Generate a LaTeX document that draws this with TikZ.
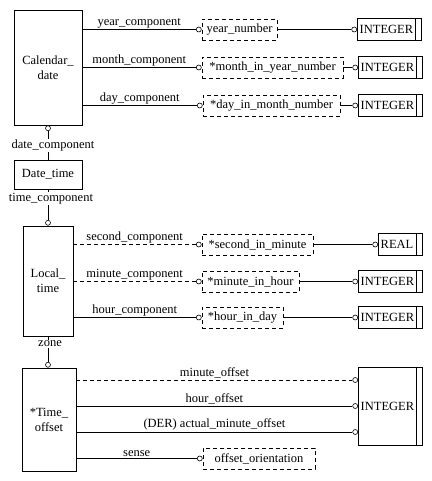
\documentclass[tikz,border=0pt]{standalone}
\usepackage{fontspec}
\setmainfont{Liberation Serif}
\usetikzlibrary{positioning}

\begin{document}
\begin{tikzpicture}[
    x=1pt, y=-1pt,
    font=\fontsize{12.5}{15}\selectfont,
    entity/.style={rectangle, draw, line width=0.8pt, align=center, inner sep=0pt},
    seltype/.style={rectangle, draw, line width=0.8pt, dash pattern=on 4pt off 3pt, minimum height=21pt, inner sep=0pt},
    basetype/.style={rectangle, inner xsep=2.5pt, inner ysep=0pt, minimum height=21pt, anchor=west},
    ocirc/.style={circle, draw, fill=white, line width=0.6pt, inner sep=0pt, minimum size=5pt},
    rel/.style={line width=0.8pt},
    optrel/.style={line width=0.8pt, dash pattern=on 4pt off 3pt},
    lbl/.style={above, inner sep=1pt},
    vlbl/.style={fill=white, inner sep=1pt}
]

\fill[white] (0,0) rectangle (431,481);
\useasboundingbox (0,0) rectangle (431,481);

\node[entity, minimum width=68pt, minimum height=115pt] (cal) at (48,67.5) {Calendar\_\\date};
\node[entity, minimum width=68pt, minimum height=29pt] (dt) at (48,174.5) {Date\_time};
\node[entity, minimum width=50pt, minimum height=110pt] (loc) at (48,281) {Local\_\\time};
\node[entity, minimum width=54pt, minimum height=103pt] (tof) at (49,419.5) {*Time\_\\offset};

\node[seltype, minimum width=75pt] (yn) at (239.5,29.5) {year\_number};
\node[seltype, minimum width=141pt] (miyn) at (272.5,67.5) {*month\_in\_year\_number};
\node[seltype, minimum width=137pt] (dimn) at (271.5,105.5) {*day\_in\_month\_number};
\node[seltype, minimum width=111pt] (sim) at (257.5,244.5) {*second\_in\_minute};
\node[seltype, minimum width=97pt] (mih) at (250.5,281.5) {*minute\_in\_hour};
\node[seltype, minimum width=81pt] (hid) at (242.5,317.5) {*hour\_in\_day};
\node[seltype, minimum width=112pt] (oo) at (259,458.5) {offset\_orientation};

\node[basetype] (i1) at (357,29.5) {INTEGER};
\node[basetype] (i2) at (358,67.5) {INTEGER};
\node[basetype] (i3) at (358,105.5) {INTEGER};
\node[basetype] (rl) at (378,244.5) {REAL};
\node[basetype] (i4) at (358,281.5) {INTEGER};
\node[basetype] (i5) at (358,317.5) {INTEGER};
\node[basetype, minimum height=77pt] (io) at (358,406.5) {INTEGER};

\foreach \t in {i1,i2,i3,rl,i4,i5,io}
    \draw[rel] (\t.south west) rectangle ([xshift=6pt]\t.north east) (\t.south east) -- (\t.north east);

\node[ocirc, anchor=north] (ccal) at (cal.south) {};
\node[ocirc, anchor=south] (cloc) at (loc.north) {};
\node[ocirc, anchor=south] (ctof) at (tof.north -| loc.south) {};

\foreach \s in {yn,miyn,dimn,sim,mih,hid,oo}
    \node[ocirc, left=0pt of \s] (c\s) {};
\foreach \t in {i1,i2,i3,rl,i4,i5}
    \node[ocirc, left=0pt of \t] (c\t) {};
\node[ocirc, anchor=east] (cmo) at (io.west |- 0,380) {};
\node[ocirc, anchor=east] (cho) at (io.west |- 0,406) {};
\node[ocirc, anchor=east] (cao) at (io.west |- 0,432) {};

\draw[rel] (ccal) -- node[vlbl, xshift=5pt] {date\_component} (dt.north);
\draw[rel] (dt.south) -- node[vlbl, pos=0.3, xshift=3pt] {time\_component} (cloc);
\draw[rel] (loc.south) -- node[vlbl, pos=0.3, xshift=2pt] {zone} (ctof);

\draw[rel] (cal.east |- cyn) -- node[lbl] {year\_component} (cyn);
\draw[rel] (cal.east |- cmiyn) -- node[lbl] {month\_component} (cmiyn);
\draw[rel] (cal.east |- cdimn) -- node[lbl] {day\_component} (cdimn);
\draw[optrel] (loc.east |- csim) -- node[lbl] {second\_component} (csim);
\draw[optrel] (loc.east |- cmih) -- node[lbl] {minute\_component} (cmih);
\draw[rel] (loc.east |- chid) -- node[lbl] {hour\_component} (chid);
\draw[optrel] (tof.east |- cmo) -- node[lbl] {minute\_offset} (cmo);
\draw[rel] (tof.east |- cho) -- node[lbl] {hour\_offset} (cho);
\draw[rel] (tof.east |- cao) -- node[lbl] {(DER) actual\_minute\_offset} (cao);
\draw[rel] (tof.east |- coo) -- node[lbl] {sense} (coo);

\draw[rel] (yn.east) -- (ci1);
\draw[rel] (miyn.east) -- (ci2);
\draw[rel] (dimn.east) -- (ci3);
\draw[rel] (sim.east) -- (crl);
\draw[rel] (mih.east) -- (ci4);
\draw[rel] (hid.east) -- (ci5);

\end{tikzpicture}
\end{document}
